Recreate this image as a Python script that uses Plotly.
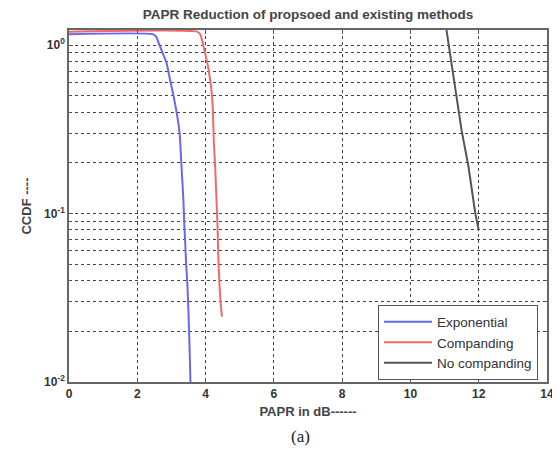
import plotly.graph_objects as go

# Data
exp_x = [0.0, 2.45, 2.55, 2.65, 2.75, 2.86, 2.96, 3.06, 3.16, 3.24, 3.29, 3.35, 3.38, 3.40, 3.43, 3.47, 3.50, 3.53, 3.56]
exp_y = [1.16, 1.16, 1.12, 1.0, 0.89, 0.78, 0.62, 0.50, 0.39, 0.30, 0.199, 0.12, 0.0835, 0.0696, 0.0506, 0.0368, 0.0256, 0.0162, 0.0095]

comp_x = [0.0, 3.75, 3.85, 3.93, 3.99, 4.09, 4.16, 4.21, 4.24, 4.29, 4.32, 4.35, 4.38, 4.41, 4.45, 4.48]
comp_y = [1.20, 1.20, 1.15, 1.0, 0.89, 0.71, 0.566, 0.43, 0.273, 0.173, 0.12, 0.0835, 0.0506, 0.0368, 0.0280, 0.0244]

nocomp_x = [11.05, 11.30, 11.50, 11.70, 11.90, 12.0]
nocomp_y = [1.25, 0.57, 0.31, 0.19, 0.10, 0.08]

x_ticks = [0, 2, 4, 6, 8, 10, 12, 14]
y_major = [0.01, 0.1, 1]
y_major_text = ["10<sup>-2</sup>", "10<sup>-1</sup>", "10<sup>0</sup>"]
y_minor = [m * d for d in (0.01, 0.1) for m in range(2, 10)]

FONT = "Liberation Sans, Arial, sans-serif"
TXT = "#333333"
GRID = "#444444"

W, H = 552, 449  # page body adds an 8px margin

fig = go.Figure()
fig.add_trace(go.Scatter(x=exp_x, y=exp_y, mode="lines", name="Exponential",
                         line=dict(color="#6868ee", width=2, shape="spline", smoothing=0.5)))
fig.add_trace(go.Scatter(x=comp_x, y=comp_y, mode="lines", name="Companding",
                         line=dict(color="#ee6b6b", width=2, shape="spline", smoothing=0.5)))
fig.add_trace(go.Scatter(x=nocomp_x, y=nocomp_y, mode="lines", name="No companding",
                         line=dict(color="#555555", width=2)))

fig.update_layout(
    width=W, height=H,
    margin=dict(l=61, r=13, t=22, b=75),
    paper_bgcolor="white", plot_bgcolor="white",
    font=dict(family=FONT, size=12, color=TXT),
    showlegend=True,
    title=dict(text="PAPR Reduction of propsoed and existing methods",
               x=0.5, xref="paper", xanchor="center",
               y=1 - 6 / H, yref="container", yanchor="middle",
               font=dict(family=FONT, size=13.5, color="#444444", weight="bold")),
    legend=dict(x=0.646, y=0.005, xanchor="left", yanchor="bottom",
                bgcolor="white", bordercolor="#555555", borderwidth=1.2,
                font=dict(family=FONT, size=13.5, color=TXT),
                tracegroupgap=0, itemwidth=48),
    xaxis=dict(range=[0, 14], tickvals=x_ticks, ticks="inside", ticklen=4,
               tickcolor="#555555", showline=True, mirror="ticks",
               linecolor="#666666", linewidth=1.5, automargin=False,
               showgrid=True, gridcolor=GRID, griddash="dot", gridwidth=1,
               zeroline=False,
               tickfont=dict(family=FONT, size=12, color=TXT, weight="bold"),
               title=dict(text="PAPR in dB------", standoff=7,
                          font=dict(family=FONT, size=13, color="#444444", weight="bold"))),
    yaxis=dict(type="log", range=[-2, 0.089], tickvals=y_major, ticktext=y_major_text,
               ticks="inside", ticklen=4, tickcolor="#555555",
               showline=True, mirror="ticks", linecolor="#666666", linewidth=1.5,
               automargin=False,
               showgrid=True, gridcolor=GRID, griddash="dot", gridwidth=1,
               zeroline=False,
               tickfont=dict(family=FONT, size=12, color=TXT, weight="bold"),
               minor=dict(tickvals=y_minor, showgrid=True, gridcolor=GRID,
                          griddash="dot", gridwidth=1, ticks="inside", ticklen=2,
                          tickcolor="#555555"),
               title=dict(text="CCDF ----", standoff=9,
                          font=dict(family=FONT, size=13, color="#444444", weight="bold"))),
)

fig.add_annotation(text="(a)", xref="paper", yref="paper", x=0.485, y=-0.155,
                   xanchor="center", yanchor="middle", showarrow=False,
                   font=dict(family="Liberation Serif, Times New Roman, serif", size=17, color="#222222"))

fig.write_html("out.html")
